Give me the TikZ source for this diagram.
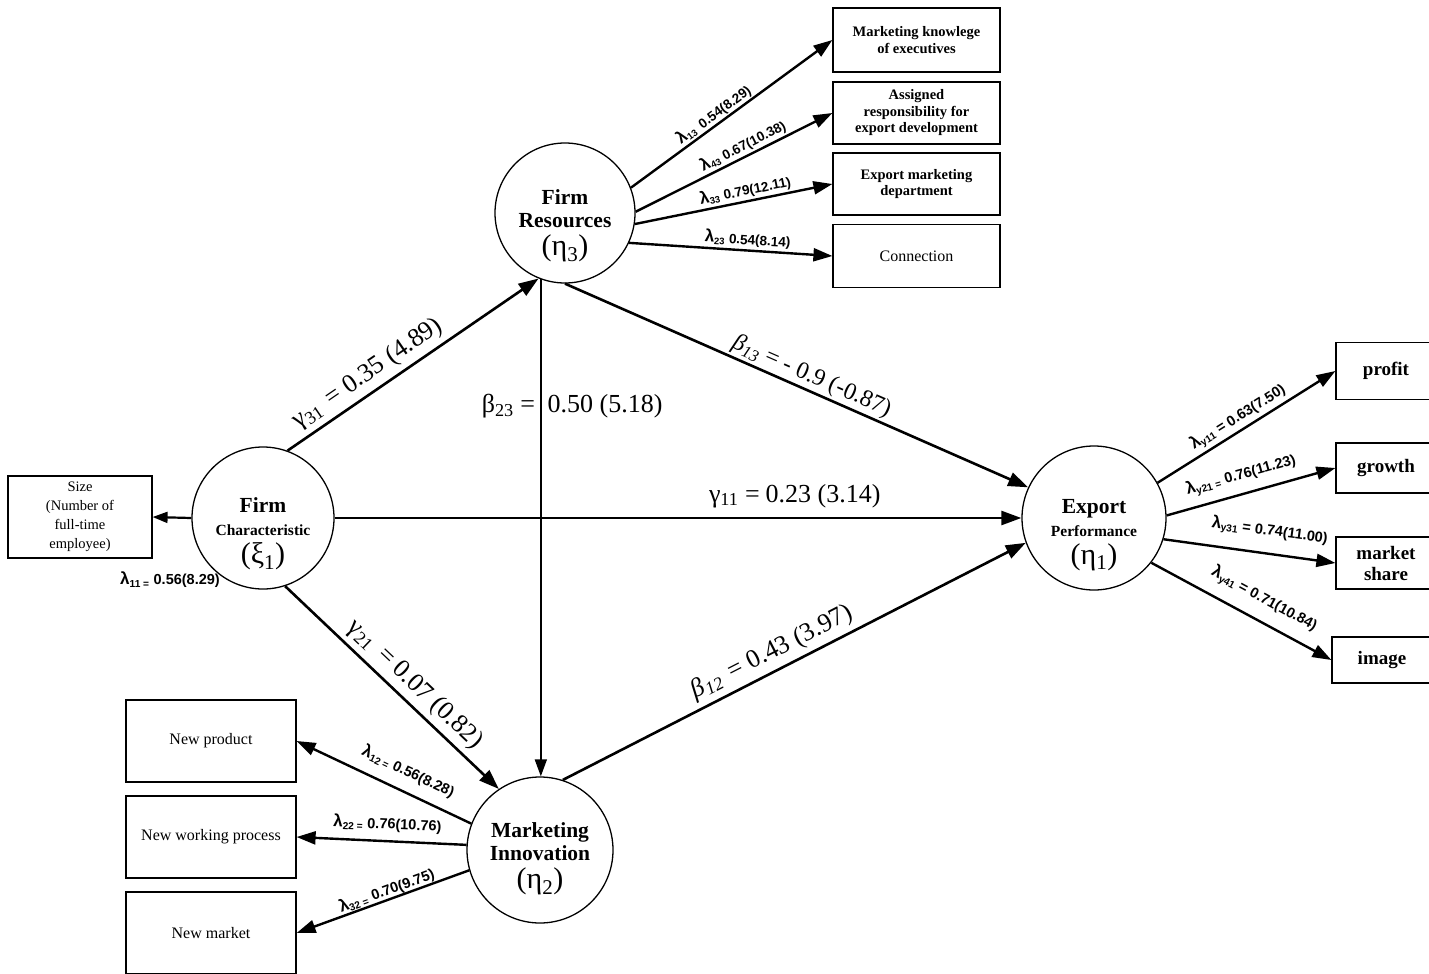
\documentclass[tikz,border=0pt]{standalone}
\usepackage{fontspec}
\setmainfont{Liberation Serif}
\setsansfont{Liberation Sans}
\usetikzlibrary{arrows.meta}
\newcommand\fs[2]{\fontsize{#1}{#2}\selectfont}
\newcommand\lm{{\fs{17}{17}λ}}
\tikzset{
  latent/.style={draw, circle, line width=1.3pt, inner sep=0pt},
  lattext/.style={align=center, inner sep=0pt, font=\bfseries\fs{21.5}{25}},
  obs/.style={draw, rectangle, line width=1.2pt, inner sep=0pt, align=center},
  topbox/.style={obs, minimum width=167pt, font=\bfseries\fs{14.5}{16.5}},
  leftbox/.style={obs, minimum width=170pt, minimum height=82pt, font=\fs{16}{19}},
  rightbox/.style={obs, minimum width=100pt, font=\bfseries\fs{19}{21}},
  pathar/.style={line width=2.6pt, -{Triangle[length=20pt,width=14pt]}},
  loadar/.style={line width=2.4pt, -{Triangle[length=19pt,width=13pt]}},
  coef/.style={font=\fs{26}{28}, inner sep=1pt},
  lam/.style={font=\sffamily\bfseries\fs{14.5}{16}, inner sep=1pt},
}
\begin{document}
\begin{tikzpicture}[x=1pt,y=-1pt]
\useasboundingbox (0,0) rectangle (1429,974);
\clip (0,0) rectangle (1429,974);

% latent variables
\node[latent, minimum size=140pt] (fr) at (565,213) {};
\node[lattext] (frt) at (565,226) {Firm\\[-2pt]Resources\\[3pt]{\fs{30}{32}\mdseries(η\textsubscript{3})}};
\node[latent, minimum size=142pt] (fc) at (263,518) {};
\node[lattext] (fct) at (263,534) {Firm\\[-2pt]{\fs{15.5}{18}Characteristic}\\[3pt]{\fs{30}{32}\mdseries(ξ\textsubscript{1})}};
\node[latent, minimum size=146pt] (mi) at (540,850) {};
\node[lattext] (mit) at (540,859) {Marketing\\[-2pt]Innovation\\[3pt]{\fs{30}{32}\mdseries(η\textsubscript{2})}};
\node[latent, minimum size=144pt] (ep) at (1094,518) {};
\node[lattext] (ept) at (1094,535) {Export\\[-2pt]{\fs{15.5}{18}Performance}\\[3pt]{\fs{30}{32}\mdseries(η\textsubscript{1})}};

% indicators
\node[obs, minimum width=144pt, minimum height=82pt, font=\fs{14.5}{19}] (size) at (80,517) {Size\\(Number of\\full-time\\employee)};
\node[topbox, minimum height=64pt] (k1) at (916.5,40) {Marketing knowlege\\of executives};
\node[topbox, minimum height=62pt] (k2) at (916.5,113) {Assigned\\responsibility for\\export development};
\node[topbox, minimum height=62pt] (k3) at (916.5,184) {Export marketing\\department};
\node[topbox, minimum height=63pt, font=\fs{16}{18}] (k4) at (916.5,256) {Connection};
\node[rightbox, minimum height=57pt] (profit) at (1386,371) {profit};
\node[rightbox, minimum height=50pt] (growth) at (1386,468) {growth};
\node[rightbox, minimum height=52pt] (share) at (1386,563) {market\\share};
\node[rightbox, minimum height=46pt] (image) at (1382,660) {image};
\node[leftbox] (np) at (211,741) {New product};
\node[leftbox] (nwp) at (211,837) {New working process};
\node[leftbox] (nm) at (211,933) {New market};

% structural paths
\draw[pathar] (fc.70) -- node[coef, sloped, above=4pt, pos=.36] (l31) {γ\textsubscript{31}\hspace{10pt}= 0.35 (4.89)} (fr.-112);
\draw[line width=1.7pt, -{Triangle[length=17pt,width=12pt]}] (fr.-110) -- node[pos=.255, left=4pt, coef] (l23a) {β\textsubscript{23} =} node[pos=.255, right=5pt, coef] (l23b) {0.50 (5.18)} (fr.-110 |- mi.north);
\draw[pathar] (fr.-90) -- node[coef, sloped, above=1pt, pos=.52, font=\fs{24}{26}] (l13) {\textit{β}\textsubscript{\textit{13}} = - 0.9 (-0.87)} (ep.155);
\draw[pathar] (fc.east) -- node[coef, above=8pt, pos=.67] (l11c) {γ\textsubscript{11} =\hspace{6pt}0.23 (3.14)} (ep.west);
\draw[pathar] (fc.-72) -- node[coef, sloped, above=4pt, pos=.55] (l21) {γ\textsubscript{21}\hspace{10pt}= 0.07 (0.82)} (mi.124);
\draw[pathar] (mi.72) -- node[coef, sloped, above=4pt, pos=.47] (l12) {\textit{β}\textsubscript{\textit{12}}\hspace{10pt}= 0.43 (3.97)} (ep.200);

% loadings
\draw[loadar] (fr.21) -- node[lam, sloped, above=0pt, pos=.44, font=\sffamily\bfseries\fs{13.5}{15}] (lk1) {\lm\textsubscript{13}\hspace{6pt}0.54(8.29)} (k1.west);
\draw[loadar] (fr.1) -- node[lam, sloped, above=1pt, pos=.57, font=\sffamily\bfseries\fs{13.5}{15}] (lk2) {\lm\textsubscript{43} 0.67(10.38)} (k2.west);
\draw[loadar] (fr.-9) -- node[lam, sloped, above=1pt, pos=.57, font=\sffamily\bfseries\fs{13.5}{15}] (lk3) {\lm\textsubscript{33} 0.79(12.11)} (k3.west);
\draw[loadar] (fr.-25) -- node[lam, sloped, above=1pt, pos=.58, font=\sffamily\bfseries\fs{13.5}{15}] (lk4) {\lm\textsubscript{23} 0.54(8.14)} (k4.west);

\draw[line width=2.2pt, -{Triangle[length=15pt,width=11pt]}] (fc.west) -- (size.east);
\node[lam] (l11) at (170,580) {\lm\textsubscript{11 =} 0.56(8.29)};

\draw[loadar] (mi.159) -- node[lam, sloped, above=10pt, pos=.41] (ln1) {\lm\textsubscript{12 =} 0.56(8.28)} (np.east);
\draw[loadar] (mi.176) -- node[lam, sloped, above=7pt, pos=.47] (ln2) {\lm\textsubscript{22 =} 0.76(10.76)} (nwp.east);
\draw[loadar] (mi.196) -- node[lam, sloped, above=-1pt, pos=.46] (ln3) {\lm\textsubscript{32 =} 0.70(9.75)} (nm.east);

\draw[loadar] (ep.29) -- node[lam, sloped, above=2pt, pos=.49] (le1) {\lm\textsubscript{y11} = 0.63(7.50)} (profit.west);
\draw[loadar] (ep.2) -- node[lam, sloped, above=8pt, pos=.47] (le2) {\lm\textsubscript{y21 =} 0.76(11.23)} (growth.west);
\draw[loadar] (ep.-17) -- node[lam, sloped, above=12pt, pos=.60] (le3) {\lm\textsubscript{y31} = 0.74(11.00)} (share.west);
\draw[loadar] (ep.-38) -- node[lam, sloped, above=11pt, pos=.57] (le4) {\lm\textsubscript{y41} = 0.71(10.84)} (image.west);
\end{tikzpicture}
\end{document}
